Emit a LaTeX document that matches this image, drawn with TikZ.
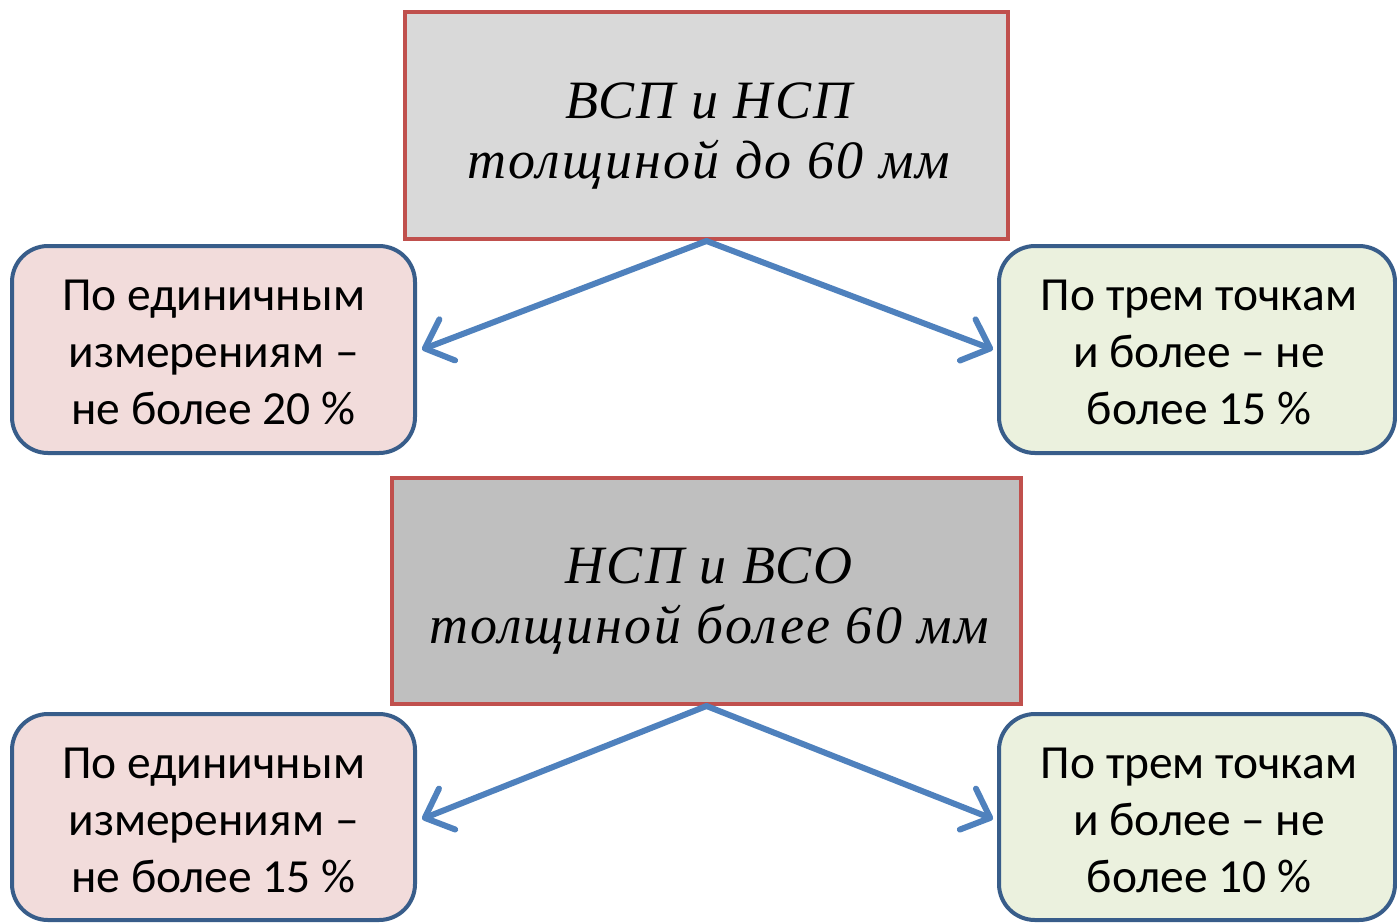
\documentclass[tikz,border=0pt]{standalone}
\usepackage{fontspec}
\setmainfont{Liberation Serif}[LetterSpace=4]
\newfontfamily\boxfont{Carlito}
\usetikzlibrary{arrows.meta}
\definecolor{redb}{HTML}{C0504D}
\definecolor{blueb}{HTML}{385D8A}
\definecolor{arrowc}{HTML}{4F81BD}
\definecolor{grayA}{HTML}{D9D9D9}
\definecolor{grayB}{HTML}{BFBFBF}
\definecolor{pinkf}{HTML}{F2DCDB}
\definecolor{greenf}{HTML}{EBF1DE}
\tikzset{
  headbox/.style={draw=redb, line width=4pt, rectangle, inner sep=0pt},
  headtext/.style={align=center, inner sep=0pt, font=\fontsize{54}{60}\selectfont\itshape},
  sidebox/.style={draw=blueb, line width=4pt, rounded corners=36pt, inner sep=0pt,
    minimum width=403pt, minimum height=207pt},
  sidetext/.style={align=center, inner sep=0pt, font=\boxfont\fontsize{47.5}{57}\selectfont},
  conn/.style={draw=arrowc, line width=6pt, line cap=round,
    -{Straight Barb[length=24pt,width=44pt,line width=6pt,round]}}
}
\begin{document}
\begin{tikzpicture}[x=1pt,y=-1pt]
\useasboundingbox (0,0) rectangle (1397,922);
\node[headbox, fill=grayA, minimum width=603pt, minimum height=227pt] (h1) at (706.5,125.5) {};
\node[headtext] (h1t) at (709,136) {ВСП и НСП\\толщиной до 60 мм};
\node[sidebox, fill=pinkf] (l1) at (213.5,349.5) {};
\node[sidetext] (l1t) at (213.5,352.5) {По единичным\\измерениям –\\не более 20 \%};
\node[sidebox, fill=greenf, minimum width=396pt] (r1) at (1197,349.5) {};
\node[sidetext] (r1t) at (1199,352.5) {По трем точкам\\и более – не\\более 15 \%};
\node[headbox, fill=grayB, minimum width=629pt, minimum height=226pt] (h2) at (706.5,591) {};
\node[headtext] (h2t) at (709,601) {НСП и ВСО\\толщиной более 60 мм};
\node[sidebox, fill=pinkf, minimum height=206pt] (l2) at (213.5,817) {};
\node[sidetext] (l2t) at (213.5,820) {По единичным\\измерениям –\\не более 15 \%};
\node[sidebox, fill=greenf, minimum width=396pt, minimum height=206pt] (r2) at (1197,817) {};
\node[sidetext] (r2t) at (1199,820) {По трем точкам\\и более – не\\более 10 \%};
\draw[conn] (h1.south) -- ([xshift=5pt]l1.east);
\draw[conn] (h1.south) -- ([xshift=-4pt]r1.west);
\draw[conn] (h2.south) -- ([xshift=5pt,yshift=-2pt]l2.east);
\draw[conn] (h2.south) -- ([xshift=-4pt,yshift=-2pt]r2.west);
\end{tikzpicture}
\end{document}
